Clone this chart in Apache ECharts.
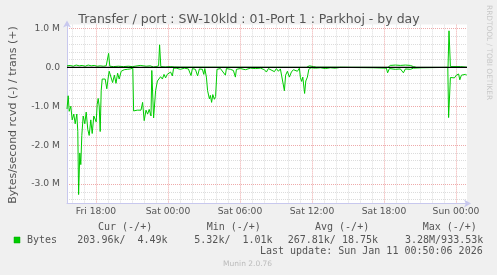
<!DOCTYPE html>
<html><head><meta charset="utf-8">
<script src="https://cdn.jsdelivr.net/npm/echarts@6/dist/echarts.min.js"></script>
<style>html,body{margin:0;padding:0;background:#f0f0f0}#c{width:497px;height:275px}</style>
</head><body><div id="c"></div>
<script>
// x: minutes relative to Sat 00:00 ; y: M bytes/second
const rcvdData = [
 [-505,-1.07],[-499,-0.73],[-494,-1.13],[-486,-1.0],[-479,-1.35],[-471,-1.2],[-464,-1.45],[-456,-1.2],
 [-451,-1.65],[-447,-3.27],[-441,-2.2],[-436,-2.5],[-431,-1.75],[-424,-1.25],[-416,-1.45],[-409,-1.15],
 [-401,-1.6],[-394,-1.75],[-386,-1.35],[-379,-1.7],[-371,-1.25],[-364,-1.2],[-359,-1.4],[-354,-0.95],
 [-349,-0.8],[-344,-1.0],[-339,-1.65],[-334,-0.6],[-329,-0.3],[-321,-0.25],[-314,-0.3],[-306,-0.55],
 [-300,-0.3],[-294,-0.1],[-285,-0.09],[-277,-0.39],[-268,-0.2],[-260,-0.41],[-252,-0.15],[-244,-0.3],
 [-234,-0.1],[-219,-0.06],[-204,-0.05],[-189,-0.04],[-176,-0.02],[-172,-1.12],[-164,-1.12],[-154,-1.1],
 [-144,-1.14],[-135,-1.1],[-127,-0.9],[-119,-1.37],[-110,-1.1],[-102,-1.2],[-94,-1.08],[-85,-1.25],
 [-81,-0.08],[-72,-1.3],[-62,-0.6],[-53,-0.35],[-45,-0.3],[-37,-0.24],[-28,-0.3],[-20,-0.18],[-12,-0.27],
 [-4,-0.18],[5,-0.2],[13,-0.12],[22,-0.22],[28,-0.02],[41,-0.02],[62,-0.05],[82,-0.02],[102,-0.04],
 [115,-0.21],[122,-0.03],[137,-0.05],[148,-0.22],[157,-0.04],[172,-0.05],[179,-0.18],[184,-0.03],
 [192,-0.25],[198,-0.6],[207,-0.81],[212,-0.72],[218,-0.9],[224,-0.7],[232,-0.82],[238,-0.75],[245,-0.05],
 [262,-0.03],[287,-0.2],[292,-0.03],[312,-0.05],[327,-0.08],[337,-0.25],[342,-0.05],[362,-0.03],[387,-0.06],
 [412,-0.02],[437,-0.03],[462,-0.02],[482,-0.06],[492,-0.12],[502,-0.03],[532,-0.11],[542,-0.03],[552,-0.1],
 [562,-0.04],[572,-0.06],[582,-0.6],[588,-0.2],[597,-0.1],[607,-0.25],[617,-0.12],[627,-0.06],[637,-0.03],
 [647,-0.1],[657,-0.02],[662,-0.26],[668,-0.36],[674,-0.25],[683,-0.67],[689,-0.35],[697,-0.25],[704,-0.05],
 [715,-0.01],[737,-0.02],[762,-0.01],[787,-0.03],[812,-0.01],[837,-0.02],[862,0],[1027,-0.01],[1092,-0.02],
 [1098,-0.14],[1107,-0.03],[1137,-0.05],[1162,-0.04],[1177,-0.14],[1187,-0.04],[1212,-0.05],[1227,-0.02],
 [1270,-0.01],[1399,0],[1403,-1.29],[1412,-0.26],[1422,-0.22],[1432,-0.27],[1442,-0.2],[1453,-0.17],
 [1459,-0.32],[1467,-0.2],[1477,-0.24],[1487,-0.18],[1494,-0.2]
];
const transData = [
 [-505,0.04],[-489,0.05],[-474,0.03],[-459,0.06],[-444,0.04],[-429,0.05],[-414,0.03],[-399,0.06],
 [-384,0.04],[-369,0.05],[-354,0.03],[-339,0.04],[-324,0.03],[-309,0.04],[-301,0.05],[-297,0.36],
 [-291,0.03],[-273,0.02],[-248,0.03],[-223,0.02],[-198,0.03],[-178,0.02],[-168,0.04],[-139,0.05],
 [-109,0.03],[-89,0.04],[-73,0.01],[-59,0.02],[-47,0.04],[-42,0.58],[-36,0.02],[-14,0.01],[12,0.02],
 [32,0.01],[62,0.005],[692,0.0],[696,0.01],[707,0.04],[717,0.05],[727,0.02],[742,0.005],[1100,0.0],
 [1111,0.05],[1137,0.06],[1162,0.05],[1187,0.06],[1212,0.05],[1227,0.02],[1242,0.0],[1400,0.0],
 [1405,0.94],[1412,0.02],[1462,0.02],[1494,0.005]
];
const xTickMinutes = [-360, 0, 360, 720, 1080, 1440];
const xTickLabels = ['Fri 18:00', 'Sat 00:00', 'Sat 06:00', 'Sat 12:00', 'Sat 18:00', 'Sun 00:00'];
const yTickValues = [1, 0, -1, -2, -3];
const yTickLabels = ['1.0 M', '0.0', '-1.0 M', '-2.0 M', '-3.0 M'];
const legendHeaders = ['Cur (-/+)', 'Min (-/+)', 'Avg (-/+)', 'Max (-/+)'];
const legendValues = ['203.96k/  4.49k', '5.32k/  1.01k', '267.81k/ 18.75k', '3.28M/933.53k'];

const X_MIN = -505, X_MAX = 1495, Y_MIN = -3.5, Y_MAX = 1.1;
const MINOR = '#dcdcdc', MAJOR = '#eeaaaa', NONE = 'rgba(0,0,0,0)';
const xColors = [];
for (let i = 0; i < 72; i++) {
  const m = X_MIN + 5 * i;
  xColors.push(((m % 360) + 360) % 360 === 0 ? MAJOR : (((m % 60) + 60) % 60 === 0 ? MINOR : NONE));
}
const yColors = [];
for (let i = 0; i < 10; i++) {
  const k = Math.round((Y_MIN + 0.1 * i) * 10);
  yColors.push(((k % 10) + 10) % 10 === 0 ? MAJOR : (((k % 2) + 2) % 2 === 0 ? MINOR : NONE));
}
const AX = '#c8c8ee', TXT = '#555';
const mono = 'DejaVu Sans Mono';
const gtext = (x, y, s, opt) => Object.assign({type: 'text', x: x, y: y, silent: true,
  style: Object.assign({text: s, fill: TXT, font: '10px ' + mono, textAlign: 'left', textVerticalAlign: 'middle'}, opt || {})});
const headerX = [98, 206.7, 315, 422.7];
const valueX = [77.3, 194.3, 287.7, 405];

const chart = echarts.init(document.getElementById('c'), null, {renderer: 'canvas'});
chart.setOption({
  backgroundColor: '#f0f0f0',
  animation: false,
  grid: {left: 67, top: 24.6, width: 400, height: 178.9, show: true, backgroundColor: '#ffffff', borderWidth: 0, containLabel: false},
  xAxis: {
    type: 'value', min: X_MIN, max: X_MAX, interval: 5,
    axisLine: {show: true, onZero: false, lineStyle: {color: AX, width: 1}, symbol: ['none', 'arrow'], symbolSize: [6, 7], symbolOffset: [0, 4]},
    axisTick: {show: false},
    splitLine: {show: true, lineStyle: {color: xColors, type: [1, 1], width: 1}},
    axisLabel: {margin: 4, fontSize: 9.2, fontFamily: 'DejaVu Sans', color: TXT,
      formatter: v => { const i = xTickMinutes.indexOf(Math.round(v)); return i >= 0 ? xTickLabels[i] : ''; }}
  },
  yAxis: {
    type: 'value', min: Y_MIN, max: Y_MAX, interval: 0.1,
    axisLine: {show: true, onZero: false, lineStyle: {color: AX, width: 1}, symbol: ['none', 'arrow'], symbolSize: [6, 7], symbolOffset: [0, 4]},
    axisTick: {show: false},
    splitLine: {show: true, lineStyle: {color: yColors, type: [1, 1], width: 1}},
    axisLabel: {margin: 7, fontSize: 9.2, fontFamily: 'DejaVu Sans', color: TXT,
      formatter: v => { const k = Math.round(v * 10); if (k % 10 !== 0) return ''; const i = yTickValues.indexOf(k / 10); return i >= 0 ? yTickLabels[i] : ''; }}
  },
  series: [
    {type: 'line', data: rcvdData, symbol: 'none', lineStyle: {color: '#00cc00', width: 1}, z: 2},
    {type: 'line', data: transData, symbol: 'none', lineStyle: {color: '#00cc00', width: 1}, z: 2},
    {type: 'line', data: [[X_MIN, 0], [X_MAX, 0]], symbol: 'none', lineStyle: {color: '#000000', width: 1.2}, z: 3}
  ],
  graphic: [
    gtext(249, 19.3, 'Transfer / port : SW-10kld : 01-Port 1 : Parkhoj - by day', {font: '12.5px DejaVu Sans', textAlign: 'center'}),
    {type: 'text', x: 13, y: 115, rotation: Math.PI / 2, silent: true,
     style: {text: 'Bytes/second rcvd (-) / trans (+)', fill: TXT, font: '11px DejaVu Sans', textAlign: 'center', textVerticalAlign: 'middle'}},
    {type: 'text', x: 489, y: 5, rotation: -Math.PI / 2, silent: true,
     style: {text: 'RRDTOOL / TOBI OETIKER', fill: '#c8c8c8', font: '7.4px DejaVu Sans', textAlign: 'left', textVerticalAlign: 'middle'}},
    {type: 'rect', shape: {x: 14, y: 237, width: 6, height: 6}, style: {fill: '#00cc00', stroke: '#00aa00', lineWidth: 0.5}, silent: true},
    gtext(27, 240, 'Bytes'),
    ...legendHeaders.map((s, i) => gtext(headerX[i], 227.5, s)),
    ...legendValues.map((s, i) => gtext(valueX[i], 240, s)),
    gtext(482.7, 251.3, 'Last update: Sun Jan 11 00:50:06 2026', {textAlign: 'right'}),
    gtext(247.6, 264.3, 'Munin 2.0.76', {font: '7.5px DejaVu Sans', fill: '#bbbbbb', textAlign: 'center'})
  ]
});
</script></body></html>
